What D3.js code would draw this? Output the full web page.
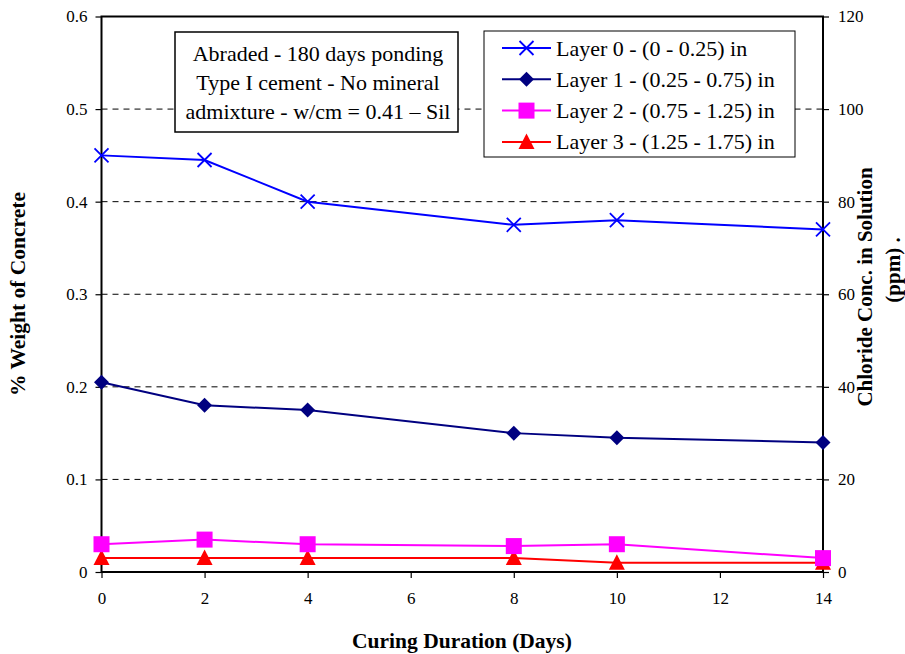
<!DOCTYPE html>
<html><head><meta charset="utf-8">
<script src="https://cdn.jsdelivr.net/npm/d3@7"></script>
<style>body{margin:0;background:#fff}svg{display:block}svg text{fill:#000}</style>
</head><body><svg id="c" width="905" height="654"></svg>
<script>
const days = [0, 2, 4, 8, 10, 14];
const layer0 = [0.45, 0.445, 0.40, 0.375, 0.38, 0.37];
const layer1 = [0.205, 0.18, 0.175, 0.15, 0.145, 0.14];
const layer2 = [0.03, 0.035, 0.03, 0.028, 0.03, 0.015];
const layer3 = [0.015, 0.015, 0.015, 0.015, 0.01, 0.01];
const seriesNames = ["Layer 0 - (0 - 0.25) in", "Layer 1 - (0.25 - 0.75) in", "Layer 2 - (0.75 - 1.25) in", "Layer 3 - (1.25 - 1.75) in"];
const xTicks = [0, 2, 4, 6, 8, 10, 12, 14];
const yTicks = [0, 0.1, 0.2, 0.3, 0.4, 0.5, 0.6];
const y2Ticks = [0, 20, 40, 60, 80, 100, 120];
const noteLines = ["Abraded - 180 days ponding", "Type I cement - No mineral", "admixture - w/cm = 0.41 \u2013 Sil"];

const series = [
  {name: seriesNames[0], vals: layer0, color: "#0000FF", marker: "x"},
  {name: seriesNames[1], vals: layer1, color: "#000080", marker: "diamond"},
  {name: seriesNames[2], vals: layer2, color: "#FF00FF", marker: "square"},
  {name: seriesNames[3], vals: layer3, color: "#FF0000", marker: "triangle"}
];

const FONT = '"Liberation Serif","Times New Roman",Times,"DejaVu Serif",serif';
const L = 101.5, R = 823, T = 16.5, B = 572;
const svg = d3.select("#c").attr("font-family", FONT);
const x = d3.scaleLinear().domain([0, 14]).range([L, R]);
const y = d3.scaleLinear().domain([0, 0.6]).range([B, T]);
const y2 = d3.scaleLinear().domain([0, 120]).range([B, T]);

// gridlines
svg.append("g").selectAll("line").data(yTicks.filter(d => d > 0 && d < 0.6)).join("line")
  .attr("x1", L).attr("x2", R).attr("y1", d => y(d)).attr("y2", d => y(d))
  .attr("stroke", "#000").attr("stroke-width", 1).attr("stroke-dasharray", "6,5");

// axes
const fmt = d => d === 0 ? "0" : d3.format(".1f")(d);
const gl = svg.append("g").attr("transform", `translate(${L},0)`)
  .call(d3.axisLeft(y).tickValues(yTicks).tickFormat(fmt).tickSize(6).tickPadding(8));
const gr = svg.append("g").attr("transform", `translate(${R},0)`)
  .call(d3.axisRight(y2).tickValues(y2Ticks).tickFormat(d3.format("d")).tickSize(6).tickPadding(9));
const gb = svg.append("g").attr("transform", `translate(0,${B})`)
  .call(d3.axisBottom(x).tickValues(xTicks).tickFormat(d3.format("d")).tickSize(6).tickPadding(14));
[gl, gr, gb].forEach(g => {
  g.attr("font-family", FONT);
  g.select(".domain").remove();
  g.selectAll(".tick line").attr("stroke", "#000").attr("stroke-width", 1.2);
  g.selectAll(".tick text").attr("font-size", 17);
});

// frame
svg.append("rect").attr("x", L).attr("y", T).attr("width", R - L).attr("height", B - T)
  .attr("fill", "none").attr("stroke", "#000").attr("stroke-width", 2);

function drawMarker(g, type, color) {
  if (type === "x") {
    g.append("path").attr("d", "M-7,-7L7,7M-7,7L7,-7").attr("stroke", color).attr("stroke-width", 1.8).attr("fill", "none");
  } else if (type === "diamond") {
    g.append("path").attr("d", "M0,-7.5L7.5,0L0,7.5L-7.5,0Z").attr("fill", color);
  } else if (type === "square") {
    g.append("rect").attr("x", -8).attr("y", -8).attr("width", 16).attr("height", 16).attr("fill", color);
  } else {
    g.append("path").attr("d", "M0,-8.5L8,7L-8,7Z").attr("fill", color);
  }
}

const line = d3.line().x(d => x(d[0])).y(d => y(d[1]));
series.forEach(s => {
  const pts = days.map((d, i) => [d, s.vals[i]]);
  svg.append("path").datum(pts).attr("d", line).attr("fill", "none")
    .attr("stroke", s.color).attr("stroke-width", 2);
});
[...series].reverse().forEach(s => {
  days.forEach((d, i) => {
    const g = svg.append("g").attr("transform", `translate(${x(d)},${y(s.vals[i])})`);
    drawMarker(g, s.marker, s.color);
  });
});

// note box
const nb = svg.append("g");
nb.append("rect").attr("x", 175).attr("y", 32).attr("width", 283).attr("height", 100)
  .attr("fill", "#fff").attr("stroke", "#000").attr("stroke-width", 1.5);
noteLines.forEach((t, i) => {
  nb.append("text").attr("x", 318).attr("y", 60.5 + i * 29).attr("text-anchor", "middle")
    .attr("font-size", 22).text(t);
});

// legend
const lg = svg.append("g");
lg.append("rect").attr("x", 484).attr("y", 31).attr("width", 311).attr("height", 126)
  .attr("fill", "#fff").attr("stroke", "#000").attr("stroke-width", 1);
series.forEach((s, i) => {
  const cy = 48 + i * 31.3;
  lg.append("line").attr("x1", 502).attr("x2", 551).attr("y1", cy).attr("y2", cy)
    .attr("stroke", s.color).attr("stroke-width", 2);
  drawMarker(lg.append("g").attr("transform", `translate(526.5,${cy})`), s.marker, s.color);
  lg.append("text").attr("x", 556).attr("y", cy + 7.5).attr("font-size", 22).text(s.name);
});

// axis titles
svg.append("text").attr("x", 462).attr("y", 648).attr("text-anchor", "middle")
  .attr("font-size", 21.5).attr("font-weight", "bold").text("Curing Duration (Days)");
svg.append("text").attr("transform", "translate(25,294) rotate(-90)").attr("text-anchor", "middle")
  .attr("font-size", 21.5).attr("font-weight", "bold").text("% Weight of Concrete");
svg.append("text").attr("transform", "translate(872,287) rotate(-90)").attr("text-anchor", "middle")
  .attr("font-size", 21).attr("font-weight", "bold").text("Chloride Conc. in Solution");
svg.append("text").attr("transform", "translate(900,270) rotate(-90)").attr("text-anchor", "middle")
  .attr("font-size", 21).attr("font-weight", "bold").text("(ppm)  .");
</script></body></html>
